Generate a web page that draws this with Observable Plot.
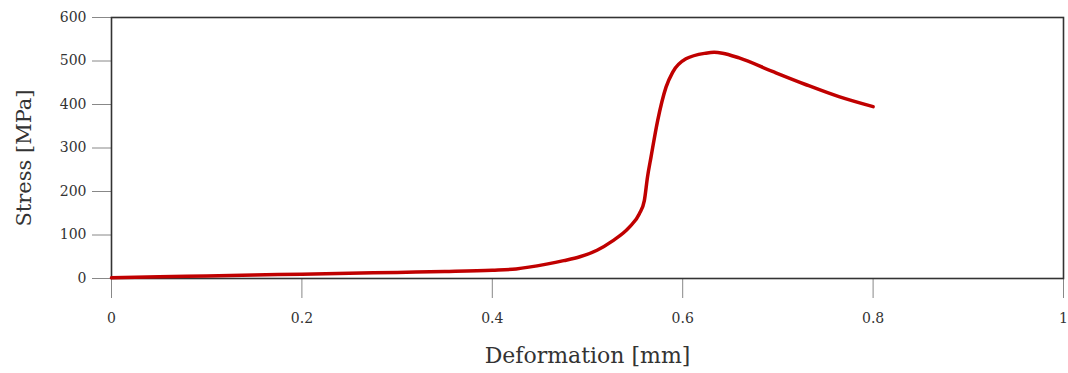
<!DOCTYPE html>
<html>
<head>
<meta charset="utf-8">
<script src="https://cdn.jsdelivr.net/npm/d3@7"></script>
<script src="https://cdn.jsdelivr.net/npm/@observablehq/plot@0.6"></script>
<style>
  html, body { margin: 0; padding: 0; background: #fff; }
  #chart svg { font-family: "DejaVu Serif", serif; }
  #chart svg g[aria-label="x-axis label"] { font-size: 22px; fill: #333; }
</style>
</head>
<body>
<div id="chart"></div>
<script>
const deformation = [0, 0.05, 0.1, 0.15, 0.2, 0.25, 0.3, 0.35, 0.4, 0.425, 0.457, 0.475, 0.492, 0.51, 0.526, 0.544, 0.5545, 0.5597, 0.563, 0.5667, 0.5737, 0.5825, 0.5894, 0.6034, 0.6243, 0.633, 0.6418, 0.6593, 0.6942, 0.729, 0.7641, 0.80];
const stress = [1.5, 4, 6, 8, 10, 12, 14, 16, 19, 22, 33, 41, 50, 65, 86, 118, 149, 179, 233, 279, 363, 440, 474, 505, 518, 520, 518, 507, 476, 446, 418, 395];
const xTicks = [0, 0.2, 0.4, 0.6, 0.8, 1];
const yTicks = [0, 100, 200, 300, 400, 500, 600];
const yLabel = ["Stress [MPa]"];

const data = deformation.map((d, i) => ({x: d, y: stress[i]}));

const chart = Plot.plot({
  width: 1068,
  height: 373,
  marginLeft: 111,
  marginRight: 5,
  marginTop: 17,
  marginBottom: 95,
  style: {fontSize: "14px", color: "#333", background: "#fff"},
  x: {domain: [0, 1]},
  y: {domain: [0, 600]},
  marks: [
    Plot.axisX({ticks: xTicks, tickFormat: d3.format("~"), tickSize: 20, tickPadding: 15, stroke: "#888",
      label: "Deformation [mm]", labelAnchor: "center", labelArrow: "none", labelOffset: 84}),
    Plot.axisY({ticks: yTicks, tickSize: 19, tickPadding: 6, stroke: "#888", label: null}),
    Plot.text(yLabel, {text: d => d, frameAnchor: "left", textAnchor: "middle", rotate: -90, dx: -87, dy: 10,
      fontSize: 21, fill: "#333"}),
    Plot.frame({stroke: "#333", strokeWidth: 1.6}),
    Plot.line(data, {x: "x", y: "y", stroke: "#c00000", strokeWidth: 3.5, curve: "monotone-x"})
  ]
});
document.getElementById("chart").appendChild(chart);
</script>
</body>
</html>
